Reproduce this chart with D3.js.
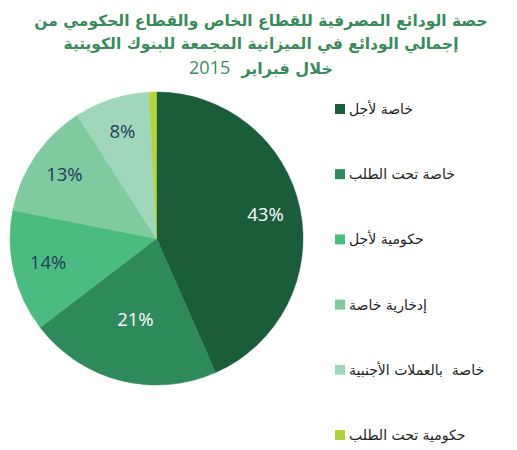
<!DOCTYPE html>
<html>
<head>
<meta charset="utf-8">
<script src="https://cdn.jsdelivr.net/npm/d3@7"></script>
<style>
  body { margin: 0; background: #fff; }
</style>
</head>
<body>
<div id="wrapper"></div>
<script>
const categories = ["خاصة لأجل", "خاصة تحت الطلب", "حكومية لأجل", "إدخارية خاصة", "خاصة  بالعملات الأجنبية", "حكومية تحت الطلب"]
const values = [43.4, 21.2, 13.5, 12.8, 8.3, 0.8]
const valueLabels = ["43%", "21%", "14%", "13%", "8%", ""]
const colors = ["#1b5c3b", "#2e8a5a", "#4cbb80", "#80caa0", "#a0d6b9", "#b2d33a"]
const titleLines = ["حصة الودائع المصرفية للقطاع الخاص والقطاع الحكومي من", "إجمالي الودائع في الميزانية المجمعة للبنوك الكويتية"]
const titleYear = ["خلال فبراير", "2015"]

const dimensions = { width: 517, height: 450 }
const pieCenter = { x: 156.5, y: 238.5 }
const radius = 146.5

const svg = d3.select("#wrapper")
    .append("svg")
    .attr("width", dimensions.width)
    .attr("height", dimensions.height)

// العنوان
const title = svg.append("g")
    .attr("fill", "#3a8b5c")
    .attr("text-anchor", "middle")
    .style("font-family", "'DejaVu Sans', sans-serif")
title.selectAll("text.line")
    .data(titleLines)
    .join("text")
    .attr("class", "line")
    .attr("x", 261)
    .attr("y", (d, i) => 26 + i * 23)
    .style("font-size", "15.5px")
    .style("font-weight", "bold")
    .text(d => d)
const yearLine = title.append("text")
    .attr("x", 261)
    .attr("y", 74)
    .attr("direction", "rtl")
    .style("white-space", "pre")
yearLine.append("tspan")
    .style("font-size", "16px")
    .style("font-weight", "bold")
    .text(titleYear[0] + "  ")
yearLine.append("tspan")
    .style("font-size", "18px")
    .style("font-family", "'Open Sans', sans-serif")
    .text(titleYear[1])

// الدائرة
const data = categories.map((c, i) => ({ name: c, value: values[i], label: valueLabels[i], color: colors[i] }))
const pie = d3.pie().value(d => d.value).sort(null)
const arc = d3.arc().innerRadius(0).outerRadius(radius)
const labelArc = d3.arc().innerRadius(radius * 0.76).outerRadius(radius * 0.76)
const innerLabelArc = d3.arc().innerRadius(radius * 0.58).outerRadius(radius * 0.58)

const bounds = svg.append("g")
    .attr("transform", `translate(${pieCenter.x},${pieCenter.y})`)

const arcs = pie(data)
bounds.selectAll("path")
    .data(arcs)
    .join("path")
    .attr("d", arc)
    .attr("fill", d => d.data.color)
    .attr("stroke", d => d.data.color)
    .attr("stroke-width", 0.5)

bounds.selectAll("text")
    .data(arcs)
    .join("text")
    .attr("transform", d => `translate(${(d.index === 1 ? innerLabelArc : labelArc).centroid(d)})`)
    .attr("text-anchor", "middle")
    .attr("dy", "0.3em")
    .attr("fill", d => d.index < 2 ? "#ffffff" : "#1f3d5c")
    .style("font-family", "'Open Sans', sans-serif")
    .style("font-size", "18.5px")
    .text(d => d.data.label)

// المفتاح
const legend = svg.append("g")
    .attr("transform", "translate(335, 109)")
const legendItems = legend.selectAll("g")
    .data(data)
    .join("g")
    .attr("transform", (d, i) => `translate(0, ${i * 65.2})`)
legendItems.append("rect")
    .attr("x", 0)
    .attr("y", -5)
    .attr("width", 10)
    .attr("height", 10)
    .attr("fill", d => d.color)
legendItems.append("text")
    .attr("x", 14)
    .attr("dy", "0.35em")
    .attr("fill", "#222")
    .style("font-family", "'DejaVu Sans', sans-serif")
    .style("font-size", "14px")
    .style("white-space", "pre")
    .text(d => d.name)
</script>
</body>
</html>
